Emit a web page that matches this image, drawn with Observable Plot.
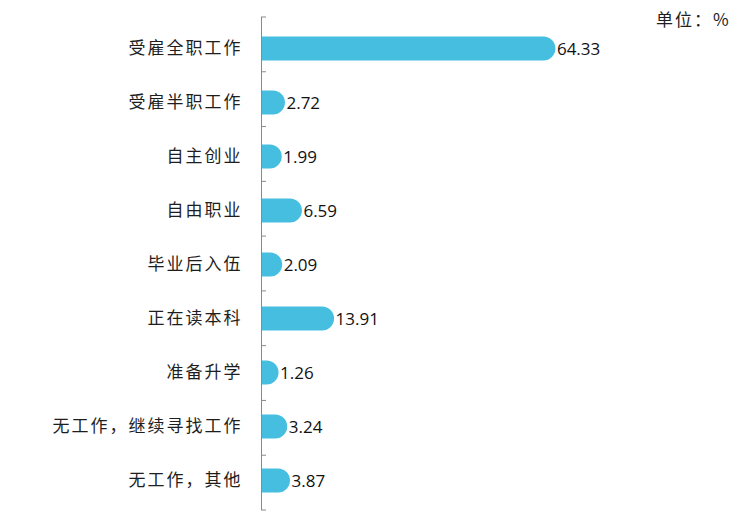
<!DOCTYPE html>
<html><head><meta charset="utf-8">
<script src="https://cdn.jsdelivr.net/npm/d3@7"></script>
<script src="https://cdn.jsdelivr.net/npm/@observablehq/plot@0.6"></script>
<style>
body{margin:0;background:#fff;}
#wrap{position:relative;width:753px;height:522px;}
#unit{position:absolute;left:656px;top:6px;font:17px "Noto Sans CJK SC";color:#1e1e1e;letter-spacing:2px;white-space:nowrap;}
g[aria-label="y-axis tick label"] text{letter-spacing:2px;}
</style>
</head><body>
<div id="wrap"><div id="unit"></div></div>
<script>
const categories = ["受雇全职工作","受雇半职工作","自主创业","自由职业","毕业后入伍","正在读本科","准备升学","无工作，继续寻找工作","无工作，其他"];
const values = [64.33,2.72,1.99,6.59,2.09,13.91,1.26,3.24,3.87];
const unitLabel = "单位：%";
document.getElementById("unit").textContent = unitLabel;

const data = categories.map((c,i)=>({cat:c, value:values[i]}));
const barColor = "#45BEE0";
const axisColor = "#8a8a8a";

const edgeTicks = (index, scales, channels, dims) => {
  const g = d3.create("svg:g");
  const top = dims.marginTop, bottom = dims.height - dims.marginBottom;
  const step = (bottom - top) / categories.length;
  const x0 = dims.marginLeft;
  for (let i = 0; i <= categories.length; i++) {
    const yy = top + i * step;
    g.append("line").attr("x1", x0).attr("x2", x0 + 5).attr("y1", yy).attr("y2", yy)
      .attr("stroke", axisColor).attr("stroke-width", 1);
  }
  return g.node();
};

const chart = Plot.plot({
  width: 753,
  height: 522,
  marginLeft: 261,
  marginRight: 53,
  marginTop: 17,
  marginBottom: 12,
  x: {domain: [0, 100], axis: null},
  y: {type: "band", domain: categories, padding: 0, label: null},
  marks: [
    Plot.ruleY(data, {y: "cat", x1: 0, x2: "value", stroke: barColor, strokeWidth: 24, strokeLinecap: "round", clip: true}),
    Plot.ruleX([0], {stroke: axisColor, strokeWidth: 1}),
    edgeTicks,
    Plot.axisY({tickSize: 0, tickPadding: 19, fontSize: 17, fontFamily: "Noto Sans CJK SC", fill: "#1e1e1e"}),
    Plot.text(data, {y: "cat", x: "value", text: d => d.value.toFixed(2), dx: 13, dy: 1, textAnchor: "start", fontSize: 17, fontFamily: "Open Sans", fill: "#111"})
  ],
  style: {background: "transparent"}
});
chart.style.position = "absolute";
chart.style.left = "0";
chart.style.top = "0";
document.getElementById("wrap").appendChild(chart);
</script>
</body></html>
